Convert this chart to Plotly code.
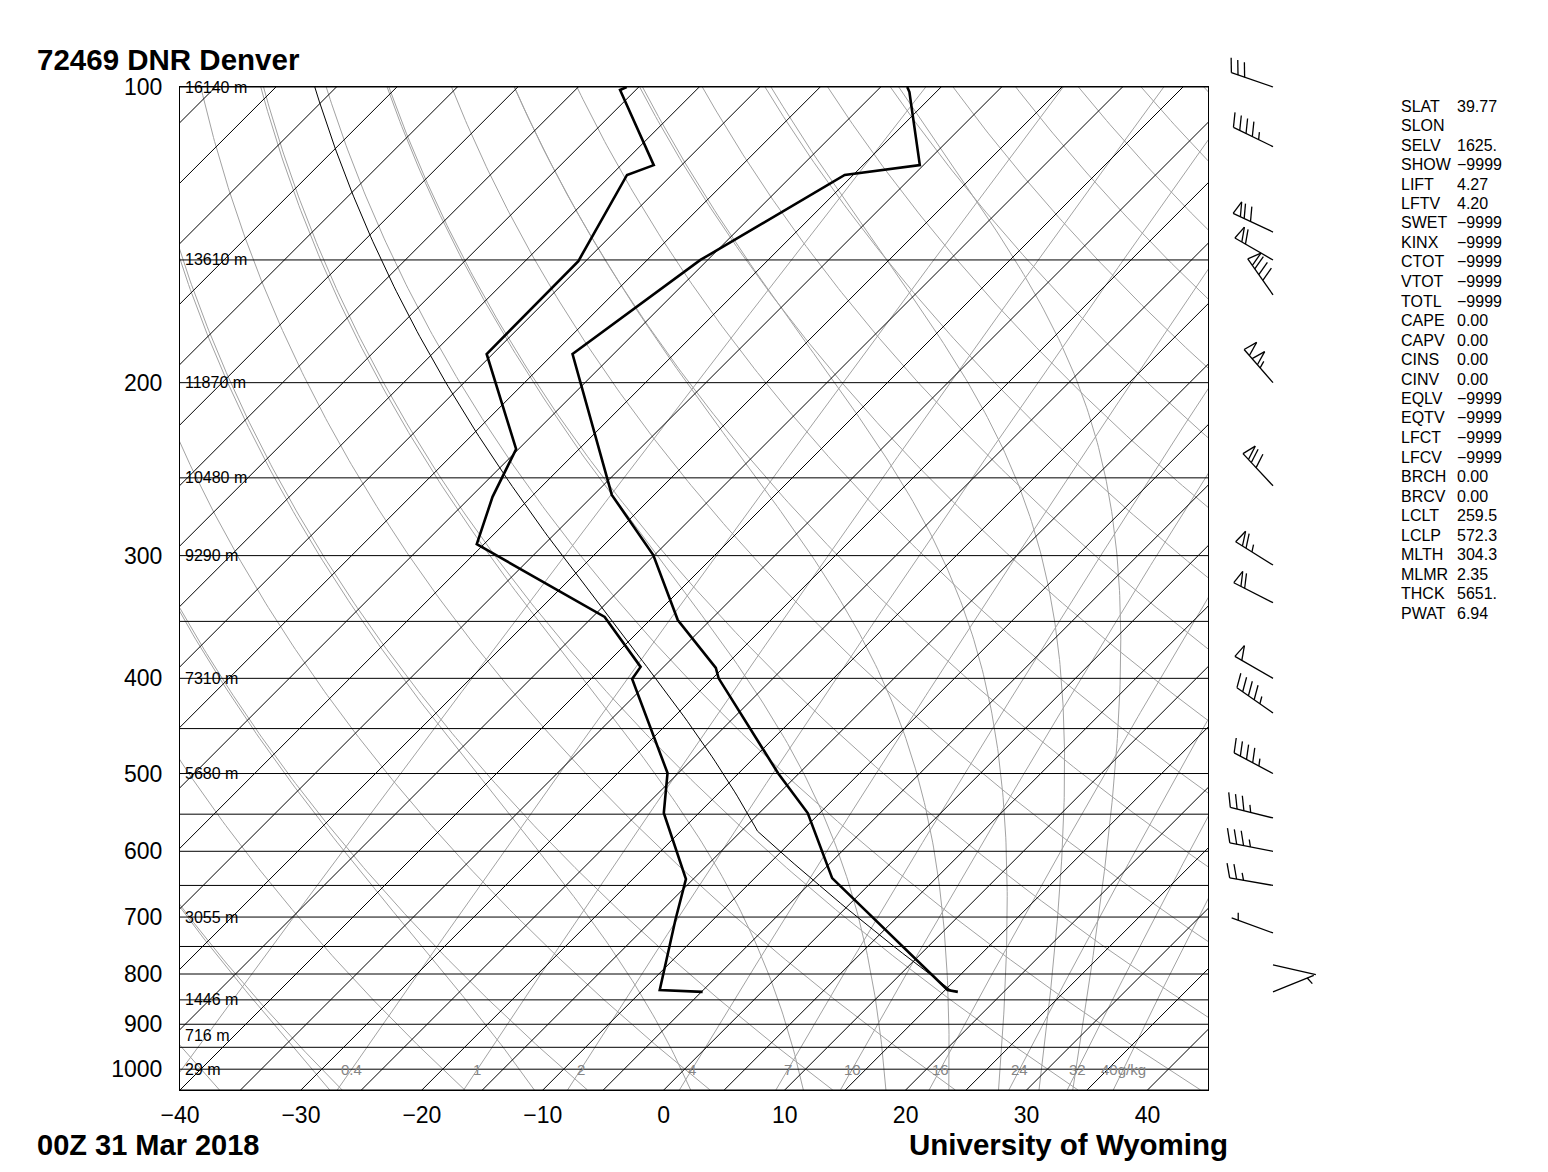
import numpy as np
import plotly.graph_objects as go

# ---------------- data ----------------
temp_p = [834.2, 830.6, 638.9, 548.5, 500.0, 400.0, 390.3, 348.9, 299.6, 260.2, 187.0, 150.0, 122.9, 120.1, 101.2, 100.0]
temp_c = [16.2, 15.2, -3.6, -11.0, -16.7, -29.5, -30.6, -37.7, -45.1, -53.5, -68.4, -65.6, -60.7, -55.3, -62.2, -62.8]

dwpt_p = [834.2, 830.6, 704.8, 640.5, 548.5, 499.4, 400.6, 389.4, 346.4, 292.0, 261.4, 233.7, 187.0, 150.4, 122.9, 120.1, 100.7, 100.0]
dwpt_c = [-4.9, -8.6, -13.1, -15.6, -22.9, -25.9, -36.6, -36.9, -44.0, -60.6, -63.2, -65.2, -75.5, -75.6, -78.7, -77.3, -86.3, -86.0]

parcel_theta_k = 304.3
parcel_lcl_p = 572.3
parcel_sfc_p = 834.2

wind_p = [100, 115, 140.5, 150, 162.8, 200, 254.7, 306.7, 335, 400, 433.8, 500, 554.9, 600, 650, 726.6, 783, 834.2]
wind_dir = [289, 296, 295, 300, 325, 319, 317, 302, 297, 300, 305, 298, 284, 281, 280, 290, 103, 68]
wind_kt = [30, 45, 70, 60, 80, 105, 70, 65, 60, 50, 45, 45, 35, 35, 25, 5, 2, 5]

isobar_p = list(range(100, 1051, 50))
isotherm_c = list(range(-130, 50, 5))
dry_theta_c = list(range(-40, 190, 10))
moist_thetae_k = [243.15, 263.15, 283.15, 303.15, 323.15, 343.15, 363.15, 383.15, 403.15]
mixr_gkg = [0.1, 0.4, 1, 2, 4, 7, 10, 16, 24, 32, 40]
mixr_text = ["", "0.4", "1", "2", "4", "7", "10", "16", "24", "32", "40g/kg"]

height_p = [100, 150, 200, 250, 300, 400, 500, 700, 850, 925, 1000]
height_txt = ["16140 m", "13610 m", "11870 m", "10480 m", "9290 m", "7310 m", "5680 m", "3055 m", "1446 m", "716 m", "29 m"]

pres_ticks = [100, 200, 300, 400, 500, 600, 700, 800, 900, 1000]
temp_ticks = [-40, -30, -20, -10, 0, 10, 20, 30, 40]

stat_names = ["SLAT", "SLON", "SELV", "SHOW", "LIFT", "LFTV", "SWET", "KINX", "CTOT", "VTOT", "TOTL",
              "CAPE", "CAPV", "CINS", "CINV", "EQLV", "EQTV", "LFCT", "LFCV", "BRCH", "BRCV",
              "LCLT", "LCLP", "MLTH", "MLMR", "THCK", "PWAT"]
stat_vals = ["39.77", "", "1625.", "\u22129999", "4.27", "4.20", "\u22129999", "\u22129999", "\u22129999", "\u22129999", "\u22129999",
             "0.00", "0.00", "0.00", "0.00", "\u22129999", "\u22129999", "\u22129999", "\u22129999", "0.00", "0.00",
             "259.5", "572.3", "304.3", "2.35", "5651.", "6.94"]

# ---------------- geometry ----------------
FIG_W, FIG_H = 1548, 1172
PLOT_L, PLOT_R, PLOT_T, PLOT_B = 180, 1208, 87, 1090
PLOT_W, PLOT_H = PLOT_R - PLOT_L, PLOT_B - PLOT_T
XMIN, XMAX = -40.0, 45.0
P_BOT, P_TOP = 1050.0, 100.0
K = (PLOT_H / np.log10(P_BOT / P_TOP)) / (PLOT_W / (XMAX - XMIN))

FONT = "Liberation Sans, Arial, Helvetica, sans-serif"
GRAY = "#a2a2a2"

Rd, Cp, Lv, EPS = 287.04, 1005.7, 2.501e6, 0.622
KAPPA = Rd / Cp


def skx(tc, p):
    return np.asarray(tc) + K * np.log10(P_BOT / np.asarray(p))


def es(tc):
    return 6.112 * np.exp(17.67 * tc / (tc + 243.5))


def rsat(p, tc):
    e = es(tc)
    return EPS * e / (p - e)


def dTdlnp(p, tk):
    r = rsat(p, tk - 273.15)
    return (Rd * tk + Lv * r) / (Cp + Lv * Lv * r * EPS / (Rd * tk * tk))


def moist_path(t0k, p0, targets):
    out = []
    t, pc = t0k, p0
    for pt in targets:
        span = np.log(pt / pc)
        n = max(1, int(abs(span) / 0.005) + 1)
        h = span / n
        for _ in range(n):
            k1 = dTdlnp(pc, t)
            k2 = dTdlnp(pc * np.exp(h / 2), t + h / 2 * k1)
            k3 = dTdlnp(pc * np.exp(h / 2), t + h / 2 * k2)
            k4 = dTdlnp(pc * np.exp(h), t + h * k3)
            t = t + h / 6 * (k1 + 2 * k2 + 2 * k3 + k4)
            pc = pc * np.exp(h)
        out.append(t)
    return np.array(out)


def thetae_sat(tc, p):
    tk = tc + 273.15
    r = rsat(p, tc)
    return tk * (1000.0 / p) ** (0.2854 * (1 - 0.28 * r)) * np.exp((3.376 / tk - 0.00254) * r * 1000 * (1 + 0.81 * r))


def t1000_from_thetae(target):
    lo, hi = -80.0, 50.0
    for _ in range(80):
        mid = 0.5 * (lo + hi)
        if thetae_sat(mid, 1000.0) < target:
            lo = mid
        else:
            hi = mid
    return 0.5 * (lo + hi)


def td_from_w(w_gkg, p):
    w = w_gkg / 1000.0
    e = w * p / (EPS + w)
    a = np.log(e / 6.112)
    return 243.5 * a / (17.67 - a)


def join(xs_list, ys_list):
    X, Y = [], []
    for xs, ys in zip(xs_list, ys_list):
        X.extend(list(xs)); Y.extend(list(ys))
        X.append(None); Y.append(None)
    return X, Y


pgrid = np.logspace(np.log10(P_BOT), np.log10(P_TOP), 240)

fig = go.Figure()

# dry adiabats
xs, ys = [], []
for th in dry_theta_c:
    t = (th + 273.15) * (pgrid / 1000.0) ** KAPPA - 273.15
    xs.append(skx(t, pgrid)); ys.append(pgrid)
X, Y = join(xs, ys)
fig.add_trace(go.Scatter(x=X, y=Y, mode="lines", line=dict(color=GRAY, width=1), hoverinfo="skip"))

# moist adiabats
p_up = np.logspace(3, 2, 200)
p_dn = np.array([1025.0, 1050.0])
xs, ys = [], []
for the in moist_thetae_k:
    t0 = t1000_from_thetae(the) + 273.15
    tu = moist_path(t0, 1000.0, p_up[1:])
    td = moist_path(t0, 1000.0, p_dn)
    pp = np.concatenate([p_dn[::-1], [1000.0], p_up[1:]])
    tt = np.concatenate([td[::-1], [t0], tu]) - 273.15
    xs.append(skx(tt, pp)); ys.append(pp)
X, Y = join(xs, ys)
fig.add_trace(go.Scatter(x=X, y=Y, mode="lines", line=dict(color=GRAY, width=1), hoverinfo="skip"))

# mixing ratio lines
xs, ys = [], []
for w in mixr_gkg:
    xs.append(skx(td_from_w(w, pgrid), pgrid)); ys.append(pgrid)
X, Y = join(xs, ys)
fig.add_trace(go.Scatter(x=X, y=Y, mode="lines", line=dict(color=GRAY, width=1), hoverinfo="skip"))

# isotherms
pe = np.array([P_BOT, P_TOP])
xs, ys = [], []
for tc in isotherm_c:
    xs.append(skx([tc, tc], pe)); ys.append(pe)
X, Y = join(xs, ys)
fig.add_trace(go.Scatter(x=X, y=Y, mode="lines", line=dict(color="black", width=1), hoverinfo="skip"))

# isobars
xs, ys = [], []
for p in isobar_p:
    xs.append([XMIN, XMAX]); ys.append([p, p])
X, Y = join(xs, ys)
fig.add_trace(go.Scatter(x=X, y=Y, mode="lines", line=dict(color="black", width=1), hoverinfo="skip"))

# parcel path
p_dry = np.logspace(np.log10(parcel_sfc_p), np.log10(parcel_lcl_p), 30)
t_dry = parcel_theta_k * (p_dry / 1000.0) ** KAPPA
p_moist = np.logspace(np.log10(parcel_lcl_p), 2, 150)
t_moist = moist_path(t_dry[-1], parcel_lcl_p, p_moist[1:])
pp = np.concatenate([p_dry, p_moist[1:]])
tt = np.concatenate([t_dry, t_moist]) - 273.15
fig.add_trace(go.Scatter(x=skx(tt, pp), y=pp, mode="lines", line=dict(color="black", width=1), hoverinfo="skip"))

# temperature & dewpoint
fig.add_trace(go.Scatter(x=skx(temp_c, temp_p), y=temp_p, mode="lines",
                         line=dict(color="black", width=2.6), hoverinfo="skip"))
fig.add_trace(go.Scatter(x=skx(dwpt_c, dwpt_p), y=dwpt_p, mode="lines",
                         line=dict(color="black", width=2.6), hoverinfo="skip"))

annotations = []
# height labels
for p, txt in zip(height_p, height_txt):
    annotations.append(dict(x=XMIN, y=np.log10(p), xref="x", yref="y", text=txt, showarrow=False,
                            xanchor="left", yanchor="middle", xshift=3, font=dict(family=FONT, size=16, color="black")))
# mixing ratio labels
for w, txt in zip(mixr_gkg, mixr_text):
    if txt:
        annotations.append(dict(x=float(skx(td_from_w(w, 1000.0), 1000.0)), y=3.0, xref="x", yref="y", text=txt,
                                showarrow=False, xanchor="center", yanchor="middle",
                                font=dict(family=FONT, size=15, color="#858585")))


def pxx(px):
    return (px - PLOT_L) / PLOT_W


def pxy(py):
    return (PLOT_B - py) / PLOT_H


# stats text
for i, (nm, vl) in enumerate(zip(stat_names, stat_vals)):
    yy = pxy(106 + 19.5 * i)
    annotations.append(dict(x=pxx(1399), y=yy, xref="paper", yref="paper", text=nm, showarrow=False,
                            xanchor="left", yanchor="middle", font=dict(family=FONT, size=16, color="black")))
    if vl:
        annotations.append(dict(x=pxx(1455), y=yy, xref="paper", yref="paper", text=vl, showarrow=False,
                                xanchor="left", yanchor="middle", font=dict(family=FONT, size=16, color="black")))

# titles
annotations.append(dict(x=pxx(35), y=pxy(59), xref="paper", yref="paper", text="<b>72469 DNR Denver</b>",
                        showarrow=False, xanchor="left", yanchor="middle", font=dict(family=FONT, size=29.5, color="black")))
annotations.append(dict(x=pxx(35), y=pxy(1145), xref="paper", yref="paper", text="<b>00Z 31 Mar 2018</b>",
                        showarrow=False, xanchor="left", yanchor="middle", font=dict(family=FONT, size=29, color="black")))
annotations.append(dict(x=pxx(1230), y=pxy(1144), xref="paper", yref="paper", text="<b>University of Wyoming</b>",
                        showarrow=False, xanchor="right", yanchor="middle", font=dict(family=FONT, size=29.5, color="black")))

# wind barbs
shapes = []
BARB_X = 1273
STAFF, SPACE, BLEN, FLAGW = 44.0, 7.0, 15.0, 8.0


def p_to_py(p):
    return PLOT_T + PLOT_H * np.log10(p / P_TOP) / np.log10(P_BOT / P_TOP)


def seg(a, b):
    shapes.append(dict(type="line", xref="paper", yref="paper", x0=pxx(a[0]), y0=pxy(a[1]),
                       x1=pxx(b[0]), y1=pxy(b[1]), line=dict(color="black", width=1.3)))


for p, d, spd in zip(wind_p, wind_dir, wind_kt):
    base = np.array([BARB_X, p_to_py(p)])
    th = np.deg2rad(d)
    s = np.array([np.sin(th), -np.cos(th)])
    n = np.array([-s[1], s[0]])
    b = np.cos(np.deg2rad(70)) * s + np.sin(np.deg2rad(70)) * n
    tip = base + STAFF * s
    seg(base, tip)
    v = int(round(spd / 5.0)) * 5
    flags, v = divmod(v, 50)
    full, v = divmod(v, 10)
    half = v // 5
    pos = tip.copy()
    for _ in range(flags):
        p1 = pos - FLAGW * s
        apex = p1 + BLEN * b
        seg(pos, apex)
        seg(apex, p1)
        pos = p1 - 0.6 * SPACE * s
    for _ in range(full):
        seg(pos, pos + BLEN * b)
        pos = pos - SPACE * s
    if half:
        if flags == 0 and full == 0:
            pos = pos - SPACE * s
        seg(pos, pos + 0.5 * BLEN * b)

fig.update_layout(
    width=FIG_W, height=FIG_H, autosize=False,
    margin=dict(l=PLOT_L, r=FIG_W - PLOT_R, t=PLOT_T, b=FIG_H - PLOT_B, pad=0),
    paper_bgcolor="white", plot_bgcolor="white", showlegend=False,
    hovermode=False,
    annotations=annotations, shapes=shapes,
    xaxis=dict(range=[XMIN, XMAX], showgrid=False, zeroline=False, showline=True, mirror=True,
               linecolor="black", linewidth=1, ticks="", tickvals=temp_ticks,
               ticktext=[("\u2212" + str(-t)) if t < 0 else str(t) for t in temp_ticks],
               tickfont=dict(family=FONT, size=23, color="black"), ticklabelstandoff=4),
    yaxis=dict(type="log", range=[np.log10(P_BOT), np.log10(P_TOP)], showgrid=False, zeroline=False,
               showline=True, mirror=True, linecolor="black", linewidth=1, ticks="",
               tickvals=pres_ticks, ticktext=[str(p) for p in pres_ticks],
               tickfont=dict(family=FONT, size=23, color="black"), ticklabelstandoff=12),
)

fig.write_html("out.html", config={"displayModeBar": False},
               post_script="document.body.style.margin='0';")
